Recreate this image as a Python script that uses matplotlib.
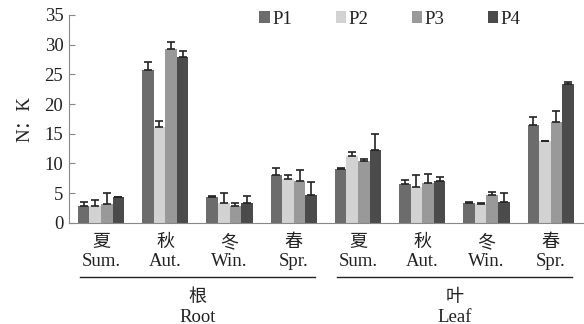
import matplotlib
matplotlib.use("Agg")
import matplotlib.pyplot as plt
import numpy as np
from matplotlib.lines import Line2D
from matplotlib.transforms import blended_transform_factory

seasons_cn = ["夏", "秋", "冬", "春", "夏", "秋", "冬", "春"]
seasons_en = ["Sum.", "Aut.", "Win.", "Spr.", "Sum.", "Aut.", "Win.", "Spr."]
organs_cn = ["根", "叶"]
organs_en = ["Root", "Leaf"]
series = ["P1", "P2", "P3", "P4"]

p1 = [2.9, 25.7, 4.4, 8.0, 9.1, 6.5, 3.3, 16.5]
p2 = [2.8, 16.1, 3.3, 7.4, 11.3, 6.1, 3.2, 13.7]
p3 = [3.2, 29.3, 2.8, 7.1, 10.5, 6.7, 4.7, 17.0]
p4 = [4.3, 28.0, 3.4, 4.7, 12.3, 7.1, 3.6, 23.3]
e1 = [0.7, 1.4, 0.1, 1.3, 0.2, 0.8, 0.2, 1.3]
e2 = [1.0, 1.0, 1.8, 0.7, 0.6, 2.0, 0.1, 0.0]
e3 = [1.9, 1.2, 0.6, 1.8, 0.2, 1.5, 0.5, 1.8]
e4 = [0.1, 1.0, 1.2, 2.2, 2.7, 0.7, 1.5, 0.4]

values = [p1, p2, p3, p4]
errors = [e1, e2, e3, e4]
colors = ["#6c6c6c", "#d2d2d2", "#999999", "#4b4b4b"]

serif = ["Liberation Serif", "Noto Sans CJK SC"]
cjk = ["Noto Sans CJK SC", "Liberation Serif"]

fig = plt.figure(figsize=(5.84, 3.24), dpi=100)
ax = fig.add_axes([0.118, 0.312, 0.880, 0.642])

x = np.arange(len(p1))
w = 0.18
for i, (v, e, c, s) in enumerate(zip(values, errors, colors, series)):
    pos = x + (i - 1.5) * w
    ax.bar(pos, v, width=w, color=c, label=s, zorder=2)
    ax.errorbar(pos, v, yerr=[np.zeros(len(e)), e], fmt="none",
                ecolor="#222222", elinewidth=1.2, capsize=3, capthick=1.2, zorder=3)

ax.set_xlim(-0.5, 7.5)
ax.set_ylim(0, 35)
ax.set_yticks(np.arange(0, 36, 5))
ax.set_xticks([])
for lab in ax.get_yticklabels():
    lab.set_family(serif)
    lab.set_fontsize(13.5)
ax.tick_params(axis="y", direction="in", length=4, color="#888888", labelcolor="#222222", pad=4)
for sp in ["top", "right"]:
    ax.spines[sp].set_visible(False)
ax.spines["left"].set_color("#888888")
ax.spines["bottom"].set_color("#888888")

ax.set_ylabel("N：K", family=serif, fontsize=13.5, color="#222222", labelpad=8)

tr = blended_transform_factory(ax.transData, fig.transFigure)
for xi, cn, en in zip(x, seasons_cn, seasons_en):
    ax.text(xi, 1 - 242 / 324, cn, transform=tr, ha="center", va="center",
            family=cjk, fontsize=13, color="#222222")
    ax.text(xi, 1 - 262 / 324, en, transform=tr, ha="center", va="center",
            family=serif, fontsize=13.5, color="#222222")

for g in range(2):
    x0 = g * 4 - 0.33
    x1 = g * 4 + 3.33
    fig.add_artist(Line2D([x0, x1], [1 - 277 / 324] * 2, transform=tr,
                          color="#222222", lw=1.0))
    xc = g * 4 + 1.5
    fig.text(xc, 1 - 297 / 324, organs_cn[g], transform=tr, ha="center", va="center",
             family=cjk, fontsize=13, color="#222222")
    fig.text(xc, 1 - 317 / 324, organs_en[g], transform=tr, ha="center", va="center",
             family=serif, fontsize=13.5, color="#222222")

leg = ax.legend(loc="center", bbox_to_anchor=(0.625, 0.98), ncol=4, frameon=False,
                handlelength=0.55, handleheight=0.55, handletextpad=0.15,
                columnspacing=2.3, prop={"family": serif, "size": 13.5})
for t in leg.get_texts():
    t.set_color("#222222")

fig.savefig("out.png", dpi=100)
